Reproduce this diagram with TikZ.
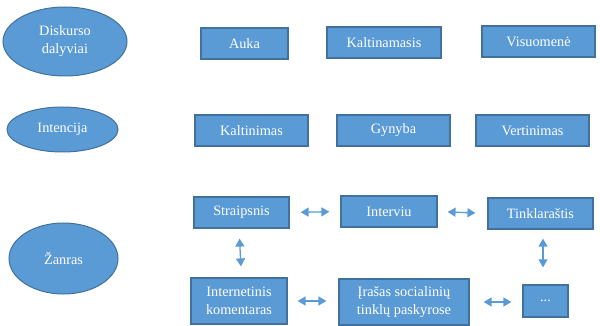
\documentclass[tikz,border=0pt]{standalone}
\usepackage{fontspec}
\setmainfont{Liberation Serif}
\usetikzlibrary{shapes.geometric,arrows.meta}
\definecolor{offblue}{HTML}{5B9BD5}
\definecolor{offedge}{HTML}{41719C}
\tikzset{
  lvl/.style={ellipse,fill=offblue,draw=offedge,line width=1pt,inner sep=0pt,text=white,align=center},
  item/.style={rectangle,fill=offblue,draw=offedge,line width=1.2pt,inner sep=0pt,text=white,align=center,minimum height=31pt},
  link/.style={draw=offblue,line width=1.3pt,{Triangle[length=8pt,width=9pt]}-{Triangle[length=8pt,width=9pt]}}
}

\begin{document}
\begin{tikzpicture}[x=1pt,y=-1pt,every node/.style={font=\fontsize{14.3}{18}\selectfont}]
  \clip (0,0) rectangle (600,326);
  % kairysis stulpelis
  \node[lvl,minimum width=124pt,minimum height=69pt] (dalyv) at (65,41.5) {Diskurso\\dalyviai};
  \node[lvl,minimum width=111pt,minimum height=45pt] (intenc) at (62.5,129.5) {Intencija};
  \node[lvl,minimum width=109pt,minimum height=71pt] (zanras) at (63.5,258.5) {Žanras};
  % dalyviai
  \node[item,minimum width=87pt] (auka) at (244.5,43.5) {Auka};
  \node[item,minimum width=114pt] (kaltin) at (384,42.5) {Kaltinamasis};
  \node[item,minimum width=113pt] (visuom) at (538.5,41.5) {Visuomenė};
  % intencijos
  \node[item,minimum width=113pt] (kaltinimas) at (251.5,130.5) {Kaltinimas};
  \node[item,minimum width=113pt] (gynyba) at (393.5,130.5) {Gynyba};
  \node[item,minimum width=113pt] (vertin) at (532.5,130.5) {Vertinimas};
  % žanrai
  \node[item,minimum width=95pt] (straips) at (241.5,212.5) {Straipsnis};
  \node[item,minimum width=96pt] (interv) at (389,211.5) {Interviu};
  \node[item,minimum width=105pt] (tinkl) at (540.5,213.5) {Tinklaraštis};
  \node[item,minimum width=96pt,minimum height=46pt] (koment) at (239,301) {Internetinis\\komentaras};
  \node[item,minimum width=130pt,minimum height=46pt] (irasas) at (404,302) {Įrašas socialinių\\tinklų paskyrose};
  \node[item,minimum width=45pt,minimum height=32pt] (kita) at (545.5,301) {...};
  % ryšiai
  \draw[link,shorten <=11pt,shorten >=11pt] (straips.east) -- (interv.west);
  \draw[link,shorten <=10pt,shorten >=12pt] (interv.east) -- (tinkl.west);
  \draw[link,shorten <=10pt,shorten >=11pt] ([xshift=-2.5pt]straips.south) -- (straips.south |- koment.north);
  \draw[link,shorten <=9pt,shorten >=17pt] ([xshift=2.5pt]tinkl.south) -- ([xshift=-2.5pt]kita.north);
  \draw[link,shorten <=10pt,shorten >=12pt] (koment.east) -- (koment.east -| irasas.west);
  \draw[link,shorten <=14pt,shorten >=11pt] (irasas.east) -- (irasas.east -| kita.west);
\end{tikzpicture}
\end{document}
